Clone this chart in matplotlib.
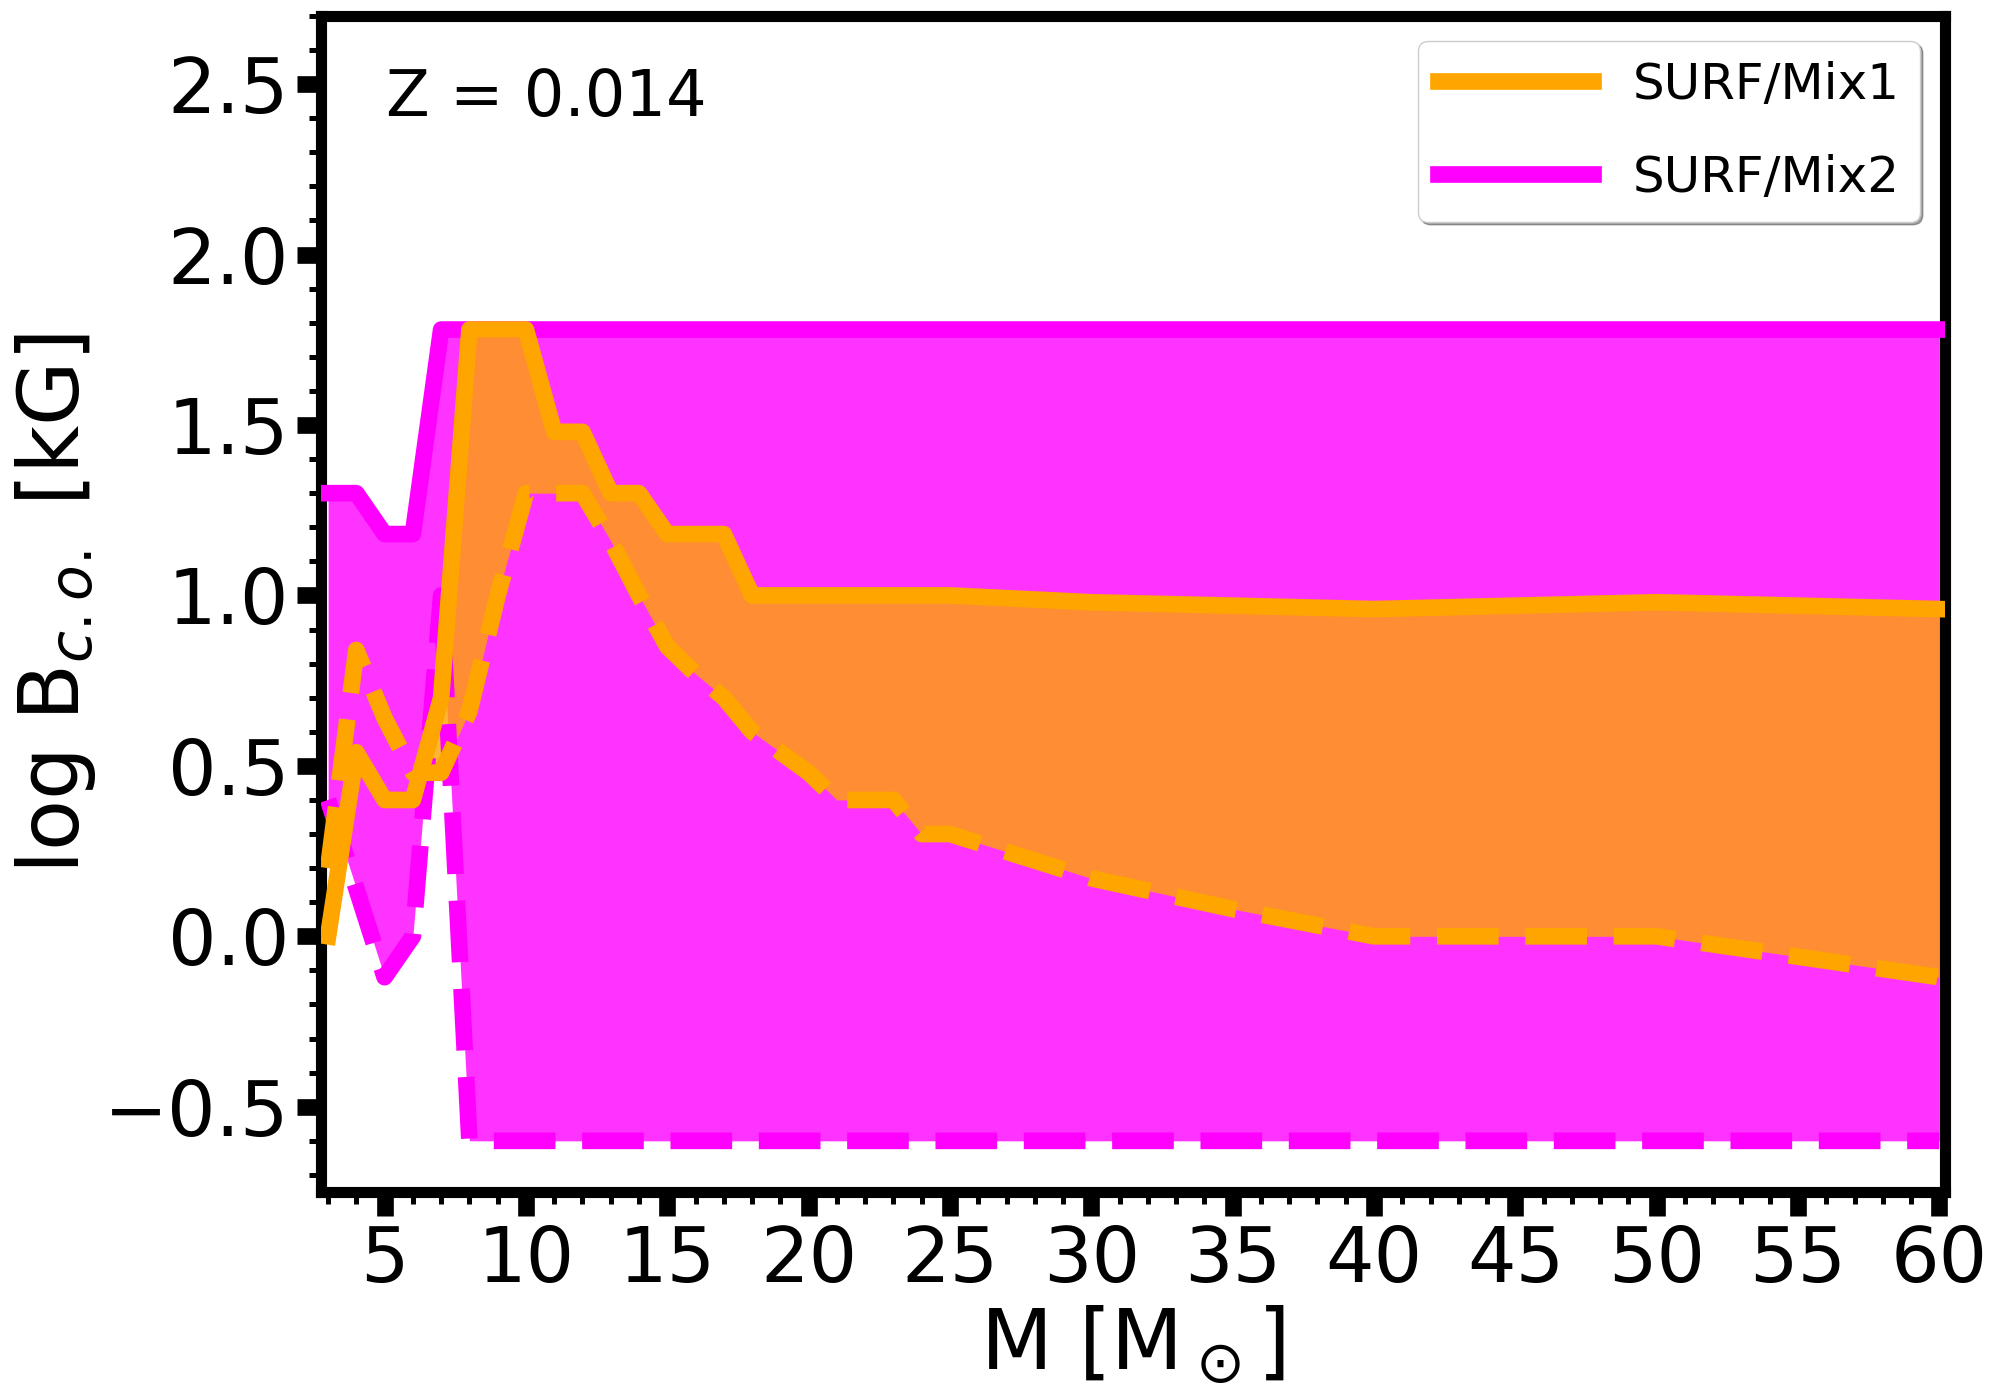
import matplotlib
matplotlib.use("Agg")
import matplotlib.pyplot as plt
import numpy as np
from matplotlib.ticker import MultipleLocator

# stellar masses [Msun]
masses = [3, 4, 5, 6, 7, 8, 9, 10, 11, 12, 13, 14, 15, 16, 17, 18, 19, 20,
          21, 22, 23, 24, 25, 30, 35, 40, 45, 50, 55, 60]

# log B_c.o. [kG], upper (solid) and lower (dashed) limits
mix1_upper = [0.00, 0.54, 0.40, 0.40, 0.70, 1.78, 1.78, 1.78, 1.48, 1.48,
              1.30, 1.30, 1.18, 1.18, 1.18, 1.00, 1.00, 1.00, 1.00, 1.00,
              1.00, 1.00, 1.00, 0.98, 0.97, 0.96, 0.97, 0.98, 0.97, 0.96]
mix1_lower = [0.20, 0.84, 0.64, 0.48, 0.48, 0.66, 1.00, 1.30, 1.30, 1.30,
              1.16, 1.00, 0.85, 0.77, 0.70, 0.60, 0.54, 0.48, 0.40, 0.40,
              0.40, 0.30, 0.30, 0.17, 0.08, 0.00, 0.00, 0.00, -0.06, -0.12]
mix2_upper = [1.30, 1.30, 1.18, 1.18, 1.78, 1.78, 1.78, 1.78, 1.78, 1.78,
              1.78, 1.78, 1.78, 1.78, 1.78, 1.78, 1.78, 1.78, 1.78, 1.78,
              1.78, 1.78, 1.78, 1.78, 1.78, 1.78, 1.78, 1.78, 1.78, 1.78]
mix2_lower = [0.40, 0.14, -0.12, 0.00, 1.00, -0.60, -0.60, -0.60, -0.60, -0.60,
              -0.60, -0.60, -0.60, -0.60, -0.60, -0.60, -0.60, -0.60, -0.60, -0.60,
              -0.60, -0.60, -0.60, -0.60, -0.60, -0.60, -0.60, -0.60, -0.60, -0.60]

fig = plt.figure(figsize=(20, 14), dpi=100)
ax = fig.add_axes([0.1605, 0.1486, 0.812, 0.840])

lw = 12

# Mix2 band
ax.fill_between(masses, mix2_lower, mix2_upper, color="magenta", alpha=0.8,
                lw=0, zorder=2)
l2, = ax.plot(masses, mix2_upper, color="magenta", lw=lw, zorder=3,
              label="SURF/Mix2")
ax.plot(masses, mix2_lower, color="magenta", lw=lw, ls="--", zorder=3)

# Mix1 band
up1 = np.array(mix1_upper)
lo1 = np.array(mix1_lower)
ax.fill_between(masses, lo1, up1, where=up1 >= lo1, interpolate=True,
                color="orange", alpha=0.8, lw=0, zorder=2.1)
l1, = ax.plot(masses, mix1_upper, color="orange", lw=lw, zorder=3.1,
              label="SURF/Mix1")
ax.plot(masses, mix1_lower, color="orange", lw=lw, ls="--", zorder=3.1)

ax.set_xlim(2.75, 60.2)
ax.set_ylim(-0.75, 2.7)

ax.xaxis.set_major_locator(MultipleLocator(5))
ax.xaxis.set_minor_locator(MultipleLocator(1))
ax.yaxis.set_major_locator(MultipleLocator(0.5))
ax.yaxis.set_minor_locator(MultipleLocator(0.1))
ax.tick_params(which="major", direction="out", length=17, width=12,
               labelsize=55, pad=6)
ax.tick_params(which="minor", direction="out", length=8.5, width=3.6)
for s in ax.spines.values():
    s.set_linewidth(8)

ax.set_xlabel(r"M [M$_\odot$]", fontsize=60)
ax.set_ylabel(r"log B$_{c.o.}$ [kG]", fontsize=60)

ax.text(0.04, 0.93, "Z = 0.014", transform=ax.transAxes, fontsize=46,
        ha="left", va="center")

leg = ax.legend(handles=[l1, l2], loc="upper right", fontsize=36,
                handlelength=3.1, labelspacing=0.9, shadow=True,
                fancybox=True)
leg.set_zorder(5)

fig.savefig("out.png", dpi=100)
